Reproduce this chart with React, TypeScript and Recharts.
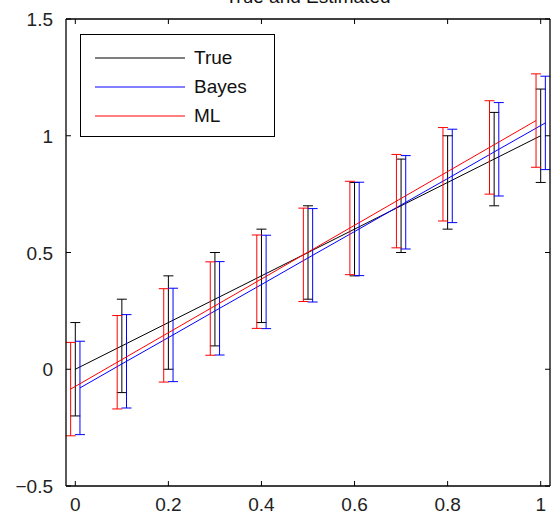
import React from 'react'
import { LineChart, Line, XAxis, YAxis, ErrorBar, Legend } from 'recharts'

// sample positions and the three curves (true line, Bayes fit, ML fit)
const xs = [0, 0.1, 0.2, 0.3, 0.4, 0.5, 0.6, 0.7, 0.8, 0.9, 1]
const trueY = [0, 0.1, 0.2, 0.3, 0.4, 0.5, 0.6, 0.7, 0.8, 0.9, 1]
const bayesY = [-0.08, 0.034, 0.147, 0.261, 0.374, 0.488, 0.601, 0.715, 0.828, 0.942, 1.055]
const mlY = [-0.085, 0.03, 0.145, 0.26, 0.375, 0.49, 0.605, 0.72, 0.835, 0.95, 1.065]

// +/- error for each point
const trueErr = [0.2, 0.2, 0.2, 0.2, 0.2, 0.2, 0.2, 0.2, 0.2, 0.2, 0.2]
const bayesErr = [0.2, 0.2, 0.2, 0.2, 0.2, 0.2, 0.2, 0.2, 0.2, 0.2, 0.2]
const mlErr = [0.2, 0.2, 0.2, 0.2, 0.2, 0.2, 0.2, 0.2, 0.2, 0.2, 0.2]

const xTicks = [0, 0.2, 0.4, 0.6, 0.8, 1]
const yTicks = [-0.5, 0, 0.5, 1, 1.5]

const FONT = '"Liberation Sans", Arial, sans-serif'
const TICK_LEN = 5

// small horizontal jitter so the error bars don't sit on top of each other
const series = [
  { name: 'True', color: '#000000', ys: trueY, err: trueErr, shift: 0 },
  { name: 'Bayes', color: '#0000ff', ys: bayesY, err: bayesErr, shift: 0.01 },
  { name: 'ML', color: '#ff0000', ys: mlY, err: mlErr, shift: -0.01 },
]
const seriesOrder = series.map(s => s.name)

const rows = (ys: number[], err: number[], shift: number) =>
  xs.map((x, i) => ({ x: x + shift, y: ys[i], err: err[i] }))

const fmt = (v: number) => (v < 0 ? '\u2212' + String(-v) : String(v))

const BottomTick = (props: any) => {
  const { x, y, payload } = props
  return (
    <g>
      <line x1={x} y1={y} x2={x} y2={y - TICK_LEN} stroke="#000" />
      <text x={x} y={y + 25} textAnchor="middle" fontSize={19} fontFamily={FONT} fill="#222">
        {fmt(payload.value)}
      </text>
    </g>
  )
}

const TopTick = (props: any) => {
  const { x, y } = props
  return <line x1={x} y1={y} x2={x} y2={y + TICK_LEN} stroke="#000" />
}

const LeftTick = (props: any) => {
  const { x, y, payload } = props
  return (
    <g>
      <line x1={x} y1={y} x2={x + TICK_LEN} y2={y} stroke="#000" />
      <text x={x - 13} y={y + 7} textAnchor="end" fontSize={19} fontFamily={FONT} fill="#222">
        {fmt(payload.value)}
      </text>
    </g>
  )
}

const RightTick = (props: any) => {
  const { x, y } = props
  return <line x1={x} y1={y} x2={x - TICK_LEN} y2={y} stroke="#000" />
}

const LegendBox = (props: any) => {
  const items = [...(props.payload || [])].sort(
    (a: any, b: any) => seriesOrder.indexOf(a.value) - seriesOrder.indexOf(b.value)
  )
  return (
    <div
      style={{
        border: '1.5px solid #000',
        background: '#fff',
        padding: '8px 0 6px 14px',
        fontFamily: FONT,
        fontSize: 19,
        color: '#111',
      }}
    >
      {items.map((it: any) => (
        <div key={it.value} style={{ display: 'flex', alignItems: 'center', height: 29 }}>
          <svg width={90} height={4} style={{ marginRight: 9 }}>
            <line x1={0} y1={2} x2={90} y2={2} stroke={it.color} strokeWidth={1.2} />
          </svg>
          <span>{it.value}</span>
        </div>
      ))}
    </div>
  )
}

export default function App() {
  return (
    <div style={{ position: 'absolute', left: 0, top: 0, width: 552, height: 518, background: '#fff' }}>
      <div
        style={{
          position: 'absolute',
          left: 66,
          width: 484,
          top: -13,
          textAlign: 'center',
          fontFamily: FONT,
          fontSize: 19,
          lineHeight: '19px',
          color: '#111',
        }}
      >
        True and Estimated
      </div>
      <LineChart width={552} height={518} margin={{ top: 18, right: 1, bottom: 1, left: 0 }}>
        <XAxis
          dataKey="x"
          type="number"
          domain={[-0.02, 1.02]}
          allowDataOverflow
          ticks={xTicks}
          interval={0}
          height={31}
          tickSize={0}
          tickMargin={0}
          tick={<BottomTick />}
          axisLine={{ stroke: '#000', strokeWidth: 1.3 }}
        />
        <XAxis
          xAxisId="top"
          orientation="top"
          dataKey="x"
          type="number"
          domain={[-0.02, 1.02]}
          allowDataOverflow
          ticks={xTicks}
          interval={0}
          height={1}
          tickSize={0}
          tickMargin={0}
          tick={<TopTick />}
          axisLine={{ stroke: '#000', strokeWidth: 1.3 }}
        />
        <YAxis
          type="number"
          domain={[-0.5, 1.5]}
          allowDataOverflow
          ticks={yTicks}
          interval={0}
          width={66}
          tickSize={0}
          tickMargin={0}
          tick={<LeftTick />}
          axisLine={{ stroke: '#000', strokeWidth: 1.3 }}
        />
        <YAxis
          yAxisId="right"
          orientation="right"
          type="number"
          domain={[-0.5, 1.5]}
          allowDataOverflow
          ticks={yTicks}
          interval={0}
          width={1}
          tickSize={0}
          tickMargin={0}
          tick={<RightTick />}
          axisLine={{ stroke: '#000', strokeWidth: 1.3 }}
        />
        <Legend
          layout="vertical"
          align="center"
          verticalAlign="middle"
          content={<LegendBox />}
          wrapperStyle={{ left: 80, top: 34, width: 195, height: 'auto' }}
        />
        {series.map(s => (
          <Line
            key={s.name}
            name={s.name}
            data={rows(s.ys, s.err, s.shift)}
            dataKey="y"
            stroke={s.color}
            strokeWidth={1}
            dot={false}
            activeDot={false}
            isAnimationActive={false}
          >
            <ErrorBar
              dataKey="err"
              direction="y"
              width={5}
              stroke={s.color}
              strokeWidth={1}
              isAnimationActive={false}
            />
          </Line>
        ))}
      </LineChart>
    </div>
  )
}
